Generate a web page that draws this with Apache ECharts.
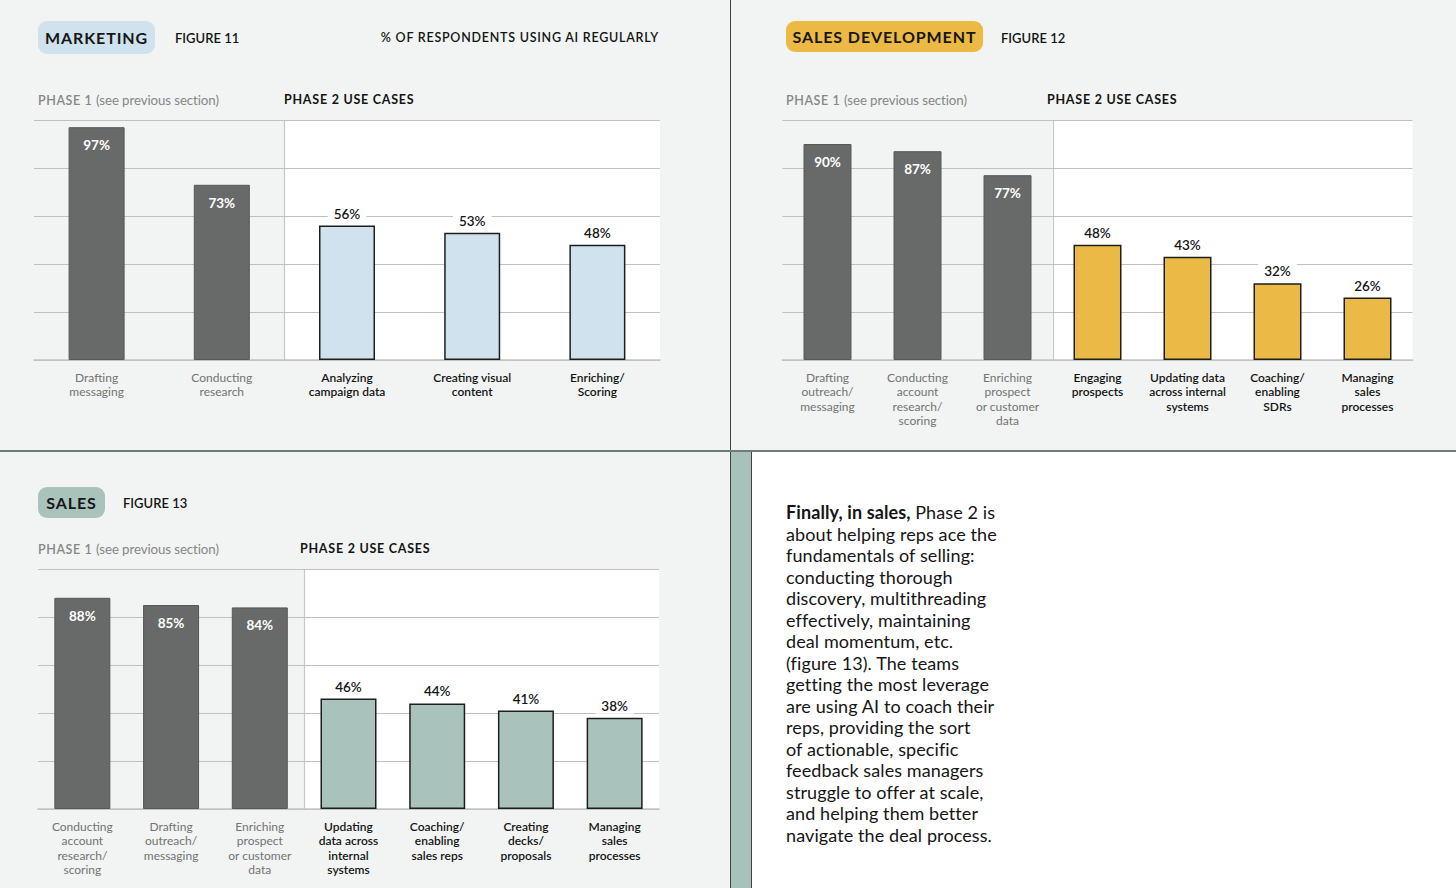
<!DOCTYPE html>
<html>
<head>
<meta charset="utf-8">
<script src="https://cdn.jsdelivr.net/npm/echarts@6/dist/echarts.min.js"></script>
<style>
html,body{margin:0;padding:0;}
body{width:1456px;height:888px;position:relative;background:#f1f4f3;overflow:hidden;font-family:Lato,"Open Sans",sans-serif;color:#141414;}
.abs{position:absolute;white-space:nowrap;}
.pill{position:absolute;border-radius:9px;font-weight:700;font-size:16px;letter-spacing:0.9px;text-align:center;color:#161616;}
.fig{position:absolute;font-size:13px;font-weight:600;letter-spacing:0px;line-height:16px;}
.ph1{position:absolute;font-size:12.5px;color:#858786;line-height:16px;letter-spacing:0.6px;font-weight:600;}
.ph1 span{letter-spacing:-0.1px;font-weight:400;font-size:13.3px;}
.ph2{position:absolute;font-size:12.5px;color:#141414;line-height:16px;letter-spacing:0.75px;font-weight:700;}
#chart{position:absolute;left:0;top:0;width:1456px;height:888px;}
.para{position:absolute;left:786px;top:502px;font-size:18px;line-height:21.5px;color:#151515;letter-spacing:0.1px;}
</style>
</head>
<body>
<div class="abs" style="left:751px;top:451px;width:705px;height:437px;background:#ffffff;"></div>
<div class="abs" style="left:731px;top:451px;width:20px;height:437px;background:#a9c1bb;"></div>
<div class="abs" style="left:730px;top:0;width:1px;height:888px;background:#3f4442;"></div>
<div class="abs" style="left:751px;top:451px;width:1px;height:437px;background:#3f4442;"></div>
<div class="abs" style="left:0;top:450px;width:1456px;height:1.5px;background:#6f7d79;"></div>

<div id="chart"></div>

<!-- Figure 11 header -->
<div class="pill" style="left:38px;top:21px;width:117px;height:33px;line-height:33px;background:#cfe2ee;">MARKETING</div>
<div class="fig" style="left:175px;top:30px;">FIGURE 11</div>
<div class="fig" style="right:797px;top:30px;font-size:12.5px;letter-spacing:0.75px;">% OF RESPONDENTS USING AI REGULARLY</div>
<div class="ph1" style="left:38px;top:92px;">PHASE 1 <span>(see previous section)</span></div>
<div class="ph2" style="left:284px;top:92px;">PHASE 2 USE CASES</div>

<!-- Figure 12 header -->
<div class="pill" style="left:786px;top:21px;width:197px;height:31px;line-height:32px;background:#ecb944;">SALES DEVELOPMENT</div>
<div class="fig" style="left:1001px;top:30px;">FIGURE 12</div>
<div class="ph1" style="left:786px;top:92px;">PHASE 1 <span>(see previous section)</span></div>
<div class="ph2" style="left:1047px;top:92px;">PHASE 2 USE CASES</div>

<!-- Figure 13 header -->
<div class="pill" style="left:38px;top:487px;width:67px;height:31px;line-height:32px;background:#a9c2bb;">SALES</div>
<div class="fig" style="left:123px;top:495px;">FIGURE 13</div>
<div class="ph1" style="left:38px;top:541px;">PHASE 1 <span>(see previous section)</span></div>
<div class="ph2" style="left:300px;top:541px;">PHASE 2 USE CASES</div>

<div class="para"><b>Finally, in sales,</b> Phase 2 is<br>about helping reps ace the<br>fundamentals of selling:<br>conducting thorough<br>discovery, multithreading<br>effectively, maintaining<br>deal momentum, etc.<br>(figure 13). The teams<br>getting the most leverage<br>are using AI to coach their<br>reps, providing the sort<br>of actionable, specific<br>feedback sales managers<br>struggle to offer at scale,<br>and helping them better<br>navigate the deal process.</div>

<script>
// ---------- DATA ----------
const mktCategories = ['Drafting\nmessaging', 'Conducting\nresearch', 'Analyzing\ncampaign data', 'Creating visual\ncontent', 'Enriching/\nScoring'];
const mktValues = [97, 73, 56, 53, 48];
const mktPhase1Count = 2;

const sdrCategories = ['Drafting\noutreach/\nmessaging', 'Conducting\naccount\nresearch/\nscoring', 'Enriching\nprospect\nor customer\ndata', 'Engaging\nprospects', 'Updating data\nacross internal\nsystems', 'Coaching/\nenabling\nSDRs', 'Managing\nsales\nprocesses'];
const sdrValues = [90, 87, 77, 48, 43, 32, 26];
const sdrPhase1Count = 3;

const salesCategories = ['Conducting\naccount\nresearch/\nscoring', 'Drafting\noutreach/\nmessaging', 'Enriching\nprospect\nor customer\ndata', 'Updating\ndata across\ninternal\nsystems', 'Coaching/\nenabling\nsales reps', 'Creating\ndecks/\nproposals', 'Managing\nsales\nprocesses'];
const salesValues = [88, 85, 84, 46, 44, 41, 38];
const salesPhase1Count = 3;

const yMin = 0, yMax = 100, yInterval = 20;

// ---------- LAYOUT / STYLE ----------
const FONT = 'Lato';
const panels = [
  { cats: mktCategories, vals: mktValues, p1: mktPhase1Count, color: '#cfe2ed', left: 34, top: 120, width: 626, height: 240, barWidth: 56 },
  { cats: sdrCategories, vals: sdrValues, p1: sdrPhase1Count, color: '#ebb945', left: 782.5, top: 120, width: 630, height: 240, barWidth: 48 },
  { cats: salesCategories, vals: salesValues, p1: salesPhase1Count, color: '#a9c2bb', left: 38, top: 569, width: 621, height: 240, barWidth: 56 }
];

const grids = [], xAxes = [], yAxes = [], series = [], graphics = [];
panels.forEach((p, k) => {
  grids.push({ left: p.left, top: p.top, width: p.width, height: p.height, containLabel: false });
  const n = p.cats.length;
  const bx = p.left + p.width * p.p1 / n;
  graphics.push({ type: 'rect', z: -10, silent: true, shape: { x: bx, y: p.top, width: p.left + p.width - bx, height: p.height }, style: { fill: '#ffffff' } });
  graphics.push({ type: 'line', z: -9, silent: true, shape: { x1: Math.round(bx) + 0.5, y1: p.top, x2: Math.round(bx) + 0.5, y2: p.top + p.height }, style: { stroke: '#c6c8c7', lineWidth: 1.2 } });
  xAxes.push({
    type: 'category', gridIndex: k, data: p.cats,
    axisTick: { show: false },
    axisLine: { show: true, lineStyle: { color: '#c2c4c3', width: 1.6 } },
    axisLabel: {
      interval: 0, margin: 10,
      formatter: (val, idx) => val.split('\n').map(l => (idx < p.p1 ? '{a|' : '{b|') + l + '}').join('\n'),
      rich: {
        a: { fontFamily: FONT, fontSize: 12, lineHeight: 14.5, color: '#717372' },
        b: { fontFamily: FONT, fontSize: 12, lineHeight: 14.5, color: '#141414', fontWeight: 600 }
      }
    }
  });
  yAxes.push({
    type: 'value', gridIndex: k, min: yMin, max: yMax, interval: yInterval,
    axisLabel: { show: false }, axisLine: { show: false }, axisTick: { show: false },
    splitLine: { show: true, lineStyle: { color: '#bfc1c0', width: 1 } }
  });
  series.push({
    type: 'bar', xAxisIndex: k, yAxisIndex: k, barWidth: p.barWidth, z: 3,
    label: { show: true, formatter: '{c}%', fontFamily: FONT, fontSize: 13.5 },
    data: p.vals.map((v, i) => i < p.p1 ? {
      value: v,
      itemStyle: { color: '#676a69', borderColor: '#555857', borderWidth: 1 },
      label: { position: 'insideTop', distance: 11, color: '#ffffff', fontWeight: 'bold' }
    } : {
      value: v,
      itemStyle: { color: p.color, borderColor: '#1e1e1e', borderWidth: 1.5 },
      label: { position: 'top', distance: 4, color: '#151515', fontWeight: 600, backgroundColor: '#ffffff', padding: [2, 6, 1, 6] }
    }),
    emphasis: { disabled: true }
  });
});

const chart = echarts.init(document.getElementById('chart'), null, { renderer: 'svg' });
chart.setOption({
  backgroundColor: 'transparent',
  animation: false,
  grid: grids, xAxis: xAxes, yAxis: yAxes, series: series,
  graphic: { elements: graphics }
});
</script>
</body>
</html>
